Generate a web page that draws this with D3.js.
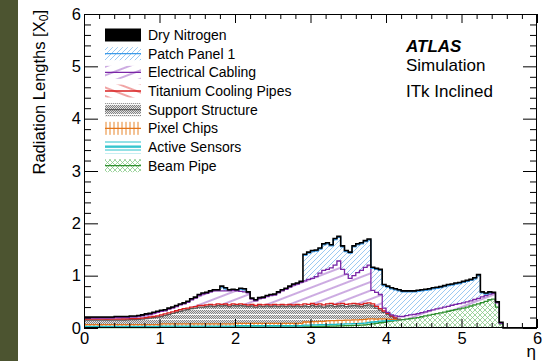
<!DOCTYPE html>
<html>
<head>
<meta charset="utf-8">
<script src="https://cdn.jsdelivr.net/npm/d3@7/dist/d3.min.js"></script>
<style>
  html, body { margin: 0; padding: 0; background: #fff; }
  svg { display: block; font-family: "Liberation Sans", Arial, Helvetica, sans-serif; }
</style>
</head>
<body>
<svg id="chart" width="559" height="361"></svg>
<script>
// Material budget of the ITk inclined layout, stacked per component, in bins of 0.05 in eta.
const binWidth = 0.05;
const etaBins = d3.range(120).map(i => +(i * binWidth).toFixed(2)); // lower bin edges, 0 .. 5.95

const beamPipe = [
  0.010,0.010,0.010,0.010,0.010,0.010,0.010,0.010,0.010,0.010,0.010,0.010,0.010,0.010,0.010,0.010,0.010,0.010,0.010,0.010,
  0.012,0.012,0.012,0.012,0.012,0.012,0.012,0.012,0.012,0.012,0.012,0.012,0.012,0.012,0.012,0.012,0.012,0.012,0.012,0.012,
  0.015,0.015,0.015,0.015,0.015,0.015,0.015,0.015,0.015,0.015,0.015,0.015,0.015,0.015,0.015,0.015,0.015,0.015,
  0.020,0.020,0.025,0.025,0.030,0.030,0.030,0.035,0.035,0.040,0.040,0.045,0.045,0.050,0.050,0.055,0.060,0.070,
  0.080,0.090,0.100,0.110,0.120,0.130,0.140,0.150,
  0.160,0.170,0.180,0.190,0.200,0.215,0.230,0.245,0.260,0.275,0.290,0.305,0.320,0.335,0.350,0.365,0.380,0.400,0.420,0.440,
  0.460,0.485,0.510,0.540,0.550,
  0.400,0.080,
  0,0,0,0,0,0,0,0,0
];
const activeSensors = [
  0.020,0.020,0.020,0.020,0.020,0.020,0.020,0.020,0.020,0.020,0.020,0.020,0.020,0.020,0.020,0.020,0.020,0.020,0.020,0.020,
  0.025,0.025,0.025,0.025,0.025,0.025,0.025,0.025,0.025,0.025,0.025,0.025,0.025,0.025,0.025,0.025,0.025,0.025,0.025,0.025,
  0.028,0.028,0.028,0.028,0.028,0.028,0.028,0.028,0.028,0.028,0.028,0.028,0.028,0.028,0.028,0.028,0.028,0.028,
  0.035,0.035,0.035,0.035,0.035,0.035,0.035,0.035,0.035,0.035,0.035,0.035,0.035,0.035,0.035,0.035,0.035,0.035,
  0.035,0.030,0.030,0.025,0.020,0.015,0.010,0.005,
  0,0,0,0,0,0,0,0,0,0,0,0,0,0,0,0,0,0,0,0,0,0,0,0,0,0,0,0,0,0,0,0,0,0,0,0
];
const pixelChips = [
  0.035,0.035,0.035,0.035,0.035,0.035,0.035,0.035,0.035,0.035,0.035,0.035,0.035,0.035,0.035,0.035,0.035,0.035,0.035,0.035,
  0.040,0.040,0.040,0.040,0.040,0.040,0.040,0.040,0.040,0.040,0.040,0.040,0.040,0.040,0.040,0.040,0.040,0.040,0.040,0.040,
  0.045,0.045,0.045,0.045,0.045,0.045,0.045,0.045,0.045,0.045,0.045,0.045,0.045,0.045,0.045,0.045,0.045,0.045,
  0.060,0.060,0.060,0.060,0.060,0.060,0.070,0.070,0.070,0.070,0.070,0.070,0.070,0.070,0.070,0.070,0.070,0.070,
  0.060,0.050,0.045,0.040,0.030,0.020,0.015,0.005,
  0,0,0,0,0,0,0,0,0,0,0,0,0,0,0,0,0,0,0,0,0,0,0,0,0,0,0,0,0,0,0,0,0,0,0,0
];
const supportStructure = [
  0.085,0.085,0.085,0.085,0.085,0.085,0.085,0.085,0.085,0.085,
  0.087,0.090,0.095,0.095,0.100,0.105,0.115,0.125,0.135,0.145,
  0.143,0.163,0.183,0.203,0.223,0.243,0.263,0.273,0.293,0.303,0.323,0.323,0.333,0.343,0.333,0.353,0.343,0.353,0.333,0.353,
  0.332,0.342,0.332,0.322,0.332,0.312,0.332,0.322,0.332,0.322,0.332,0.322,0.332,0.322,0.332,0.322,0.332,0.322,
  0.305,0.295,0.310,0.290,0.295,0.275,0.285,0.290,0.270,0.275,0.285,0.260,0.270,0.275,0.265,0.250,0.265,0.265,
  0.245,0.210,0.165,0.125,0.090,0.055,0.025,0.010,
  0,0,0,0,0,0,0,0,0,0,0,0,0,0,0,0,0,0,0,0,0,0,0,0,0,0,0,0,0,0,0,0,0,0,0,0
];
const titaniumPipes = [
  0.020,0.020,0.020,0.020,0.020,0.020,0.020,0.020,0.020,0.020,0.020,0.020,0.020,0.020,0.020,0.020,0.020,0.020,0.020,0.020,
  0.030,0.030,0.030,0.030,0.030,0.030,0.030,0.030,0.030,0.030,0.030,0.030,0.030,0.030,0.030,0.030,0.030,0.030,0.030,0.030,
  0.030,0.030,0.030,0.030,0.030,0.030,0.030,0.030,0.030,0.030,0.030,0.030,0.030,0.030,0.030,0.030,0.030,0.030,
  0.040,0.040,0.040,0.040,0.040,0.040,0.040,0.040,0.040,0.040,0.040,0.040,0.040,0.040,0.040,0.040,0.040,0.040,
  0.040,0.035,0.030,0.025,0.020,0.010,0.005,0,
  0,0,0,0,0,0,0,0,0,0,0,0,0,0,0,0,0,0,0,0,0,0,0,0,0,0,0,0,0,0,0,0,0,0,0,0
];
const electricalCabling = [
  0.020,0.020,0.020,0.020,0.020,0.020,0.020,0.020,
  0.030,0.030,0.028,0.025,0.030,0.030,0.035,0.040,0.050,0.050,0.060,0.070,
  0.07,0.06,0.07,0.07,0.08,0.09,0.09,0.11,0.14,0.16,0.19,0.22,0.22,0.24,0.27,0.25,0.26,0.25,0.27,0.26,
  0.26,0.24,0.24,0.23,0.10,0.09,0.11,0.13,0.15,0.18,0.18,0.23,0.26,0.30,0.33,0.38,0.39,0.43,
  0.44,0.48,0.48,0.53,0.59,0.66,0.66,0.68,0.75,0.82,0.65,0.58,0.49,0.53,0.60,0.65,0.69,0.72,
  0.26,0.265,0.27,0.055,0.02,0.02,0.035,0.05,
  0.060,0.065,0.070,0.070,0.075,0.080,0.080,0.085,0.085,0.090,0.090,0.095,0.095,0.100,0.100,0.100,0.100,0.100,0.100,0.105,
  0.105,0.110,0.110,0.110,0.110,
  0.080,0.010,
  0,0,0,0,0,0,0,0,0
];
const patchPanel = [
  0,0,0,0,0,0,0,0,0,0,0,0,0,0,0,0,0,0,0,0,
  0,0,0,0,0,0,0,0,0,0,0,0,0,0,0,0,0.07,0.04,0,0,
  0,0.04,0.04,0,0,0,0,0,0,0,0,0,0,0,0,0,0,0,
  0.49,0.50,0.51,0.49,0.46,0.49,0.49,0.42,0.49,0.45,0.43,0.43,0.48,0.55,0.53,0.51,0.49,0.48,
  0.42,0.44,0.46,0.43,0.48,0.50,0.50,0.49,
  0.470,0.455,0.440,0.430,0.425,0.415,0.410,0.400,0.405,0.395,0.390,0.390,0.395,0.385,0.390,0.385,0.390,0.390,0.390,0.395,
  0.435,0.075,0.030,0.020,0,0,0,
  0,0,0,0,0,0,0,0,0
];
const dryNitrogen = [
  0.02,0.02,0.02,0.02,0.02,0.02,0.02,0.02,0.02,0.02,0.02,0.02,0.02,0.02,0.02,0.02,0.02,0.02,0.02,0.02,
  0.02,0.02,0.02,0.02,0.02,0.02,0.02,0.02,0.02,0.02,0.02,0.02,0.02,0.02,0.02,0.02,0.02,0.02,0.02,0.02,
  0.02,0.02,0.02,0.02,0.02,0.02,0.02,0.02,0.02,0.02,0.02,0.02,0.02,0.02,0.02,0.02,0.02,0.02,0.02,0.02,
  0.02,0.02,0.02,0.02,0.02,0.02,0.02,0.02,0.02,0.02,0.02,0.02,0.02,0.02,0.02,0.02,0.02,0.02,0.02,0.02,
  0.02,0.02,0.02,0.02,0.02,0.02,0.02,0.02,0.02,0.02,0.02,0.02,0.02,0.02,0.02,0.02,0.02,0.02,0.02,0.02,
  0.02,0.02,0.02,0.02,0.02,0.02,0.02,0.02,0.02,0.02,0.02,
  0,0,0,0,0,0,0,0,0
];

const xTickValues = [0, 1, 2, 3, 4, 5, 6];
const yTickValues = [0, 1, 2, 3, 4, 5, 6];

// stacking order, bottom to top
const keys = ["beamPipe", "activeSensors", "pixelChips", "supportStructure",
              "titaniumPipes", "electricalCabling", "patchPanel", "dryNitrogen"];
const valuesByKey = { beamPipe, activeSensors, pixelChips, supportStructure,
                      titaniumPipes, electricalCabling, patchPanel, dryNitrogen };

const style = {
  dryNitrogen:       { label: "Dry Nitrogen",           fill: "#000",             line: "#000" },
  patchPanel:        { label: "Patch Panel 1",          fill: "url(#pat-pp)",     line: "#3d9be9" },
  electricalCabling: { label: "Electrical Cabling",     fill: "url(#pat-ec)",     line: "#7a26a6" },
  titaniumPipes:     { label: "Titanium Cooling Pipes", fill: "url(#pat-ti)",     line: "#d81f1f" },
  supportStructure:  { label: "Support Structure",      fill: "url(#pat-ss)",     line: "#5a5a5a" },
  pixelChips:        { label: "Pixel Chips",            fill: "url(#pat-pc)",     line: "#e3761b" },
  activeSensors:     { label: "Active Sensors",         fill: "url(#pat-as)",     line: "#19bcc6" },
  beamPipe:          { label: "Beam Pipe",              fill: "url(#pat-bp)",     line: "#2f8f2f" }
};

const svg = d3.select("#chart");
const x = d3.scaleLinear().domain([0, 6]).range([84, 537]);
const y = d3.scaleLinear().domain([0, 6]).range([328, 14]);

// slide margin strip
svg.append("rect").attr("x", 0).attr("y", 0).attr("width", 18).attr("height", 361).attr("fill", "#4c5430");

// fill patterns
const defs = svg.append("defs");
function pattern(id, w, h, transform) {
  const p = defs.append("pattern").attr("id", id)
    .attr("patternUnits", "userSpaceOnUse").attr("width", w).attr("height", h);
  if (transform) p.attr("patternTransform", transform);
  return p;
}
pattern("pat-pp", 5, 5).append("path")
  .attr("d", "M-1,1 L1,-1 M0,5 L5,0 M4,6 L6,4").attr("stroke", "#9ccaf2").attr("stroke-width", 1);
pattern("pat-ec", 12, 8, "rotate(-21)").append("path")
  .attr("d", "M0,4 H12").attr("stroke", "#9a57c4").attr("stroke-width", 1);
pattern("pat-ti", 12, 8, "rotate(21)").append("path")
  .attr("d", "M0,4 H12").attr("stroke", "#e24a4a").attr("stroke-width", 1);
const ss = pattern("pat-ss", 4, 5);
ss.append("rect").attr("width", 4).attr("height", 5).attr("fill", "#e2e2e2");
[[0,0],[2,0],[1,1],[3,1],[0,2],[2,2],[1,3],[3,3]].forEach(([px, py]) =>
  ss.append("rect").attr("x", px).attr("y", py).attr("width", 1).attr("height", 1).attr("fill", "#828282"));
ss.append("rect").attr("x", 0).attr("y", 4).attr("width", 4).attr("height", 1).attr("fill", "#fafafa");
pattern("pat-pc", 4, 4).append("path")
  .attr("d", "M2,0 V4").attr("stroke", "#e8862a").attr("stroke-width", 1);
pattern("pat-as", 4, 4).append("path")
  .attr("d", "M0,2 H4").attr("stroke", "#27c3cc").attr("stroke-width", 1);
pattern("pat-bp", 5, 5).append("path")
  .attr("d", "M0,0 L5,5 M5,0 L0,5").attr("stroke", "#86c986").attr("stroke-width", 0.8);

// stacked histogram
const rows = etaBins.map((eta, i) => {
  const r = { eta };
  keys.forEach(k => { r[k] = valuesByKey[k][i]; });
  return r;
});
const stacked = d3.stack().keys(keys)(rows);

function stepPoints(s) {
  const pts = [];
  s.forEach(d => {
    const v = d[1] - d[0];
    pts.push({ x: d.data.eta, y0: d[0], y1: d[1], v });
    pts.push({ x: d.data.eta + binWidth, y0: d[0], y1: d[1], v });
  });
  return pts;
}

const plot = svg.append("g");
const area = d3.area().x(d => x(d.x)).y0(d => y(d.y0)).y1(d => y(d.y1));
stacked.forEach(s => {
  plot.append("path").attr("d", area(stepPoints(s))).attr("fill", style[s.key].fill);
});
stacked.forEach(s => {
  const isTop = s.key === "dryNitrogen";
  const line = d3.line().x(d => x(d.x)).y(d => y(d.y1))
    .defined(d => isTop || d.v > 0.0005);
  plot.append("path").attr("d", line(stepPoints(s)))
    .attr("fill", "none").attr("stroke", style[s.key].line)
    .attr("stroke-width", isTop ? 1.6 : 1.3).attr("stroke-linejoin", "miter");
});

// axes: inward ticks on all four sides
const minorX = d3.range(31).filter(i => i % 5 !== 0).map(i => i * 0.2);
const minorY = d3.range(31).filter(i => i % 5 !== 0).map(i => i * 0.2);
const fontTick = "16.5px";

function clean(g) { g.select(".domain").remove(); }

svg.append("g").attr("transform", "translate(0,328)")
  .call(d3.axisBottom(x).tickValues(xTickValues).tickSize(-9).tickPadding(4.5).tickFormat(d3.format("d")))
  .call(clean)
  .call(g => g.selectAll("text").style("font-size", fontTick).attr("fill", "#000").style("font-family", "inherit"));
svg.append("g").attr("transform", "translate(0,328)")
  .call(d3.axisBottom(x).tickValues(minorX).tickSize(-5).tickFormat(""))
  .call(clean);
svg.append("g").attr("transform", "translate(0,14)")
  .call(d3.axisTop(x).tickValues(xTickValues).tickSize(-9).tickFormat(""))
  .call(clean);
svg.append("g").attr("transform", "translate(0,14)")
  .call(d3.axisTop(x).tickValues(minorX).tickSize(-5).tickFormat(""))
  .call(clean);

svg.append("g").attr("transform", "translate(84,0)")
  .call(d3.axisLeft(y).tickValues(yTickValues).tickSize(-14).tickPadding(3).tickFormat(d3.format("d")))
  .call(clean)
  .call(g => g.selectAll("text").style("font-size", fontTick).attr("fill", "#000").style("font-family", "inherit"));
svg.append("g").attr("transform", "translate(84,0)")
  .call(d3.axisLeft(y).tickValues(minorY).tickSize(-7).tickFormat(""))
  .call(clean);
svg.append("g").attr("transform", "translate(537,0)")
  .call(d3.axisRight(y).tickValues(yTickValues).tickSize(-14).tickFormat(""))
  .call(clean);
svg.append("g").attr("transform", "translate(537,0)")
  .call(d3.axisRight(y).tickValues(minorY).tickSize(-7).tickFormat(""))
  .call(clean);

svg.append("rect").attr("x", 84.5).attr("y", 14.5).attr("width", 452).attr("height", 313)
  .attr("fill", "none").attr("stroke", "#000").attr("stroke-width", 1);

// axis titles
const yTitle = svg.append("text")
  .attr("transform", "translate(44.5,10) rotate(-90)")
  .attr("text-anchor", "end").style("font-size", "16.5px").attr("fill", "#000");
yTitle.append("tspan").text("Radiation Lengths [X");
yTitle.append("tspan").attr("dy", 3.5).style("font-size", "12px").text("0");
yTitle.append("tspan").attr("dy", -3.5).text("]");

svg.append("text").attr("x", 536).attr("y", 357).attr("text-anchor", "end")
  .style("font-size", "17px").attr("fill", "#000").text("η");

// ATLAS label
svg.append("text").attr("x", 406).attr("y", 51.5).style("font-size", "17px")
  .style("font-weight", "bold").style("font-style", "italic").text("ATLAS");
svg.append("text").attr("x", 406).attr("y", 70.7).style("font-size", "17px").text("Simulation");
svg.append("text").attr("x", 406).attr("y", 97.3).style("font-size", "17px").text("ITk Inclined");

// legend
const legendKeys = keys.slice().reverse();
const legend = svg.append("g");
legendKeys.forEach((k, i) => {
  const cy = 35 + i * 18.67;
  const g = legend.append("g");
  g.append("rect").attr("x", 105).attr("y", cy - 6.5).attr("width", 36).attr("height", 13)
    .attr("fill", style[k].fill);
  if (k !== "dryNitrogen") {
    g.append("line").attr("x1", 105).attr("x2", 141).attr("y1", cy).attr("y2", cy)
      .attr("stroke", style[k].line).attr("stroke-width", 1.3);
  }
  g.append("text").attr("x", 148).attr("y", cy + 5).style("font-size", "14px")
    .attr("fill", "#000").text(style[k].label);
});
</script>
</body>
</html>
